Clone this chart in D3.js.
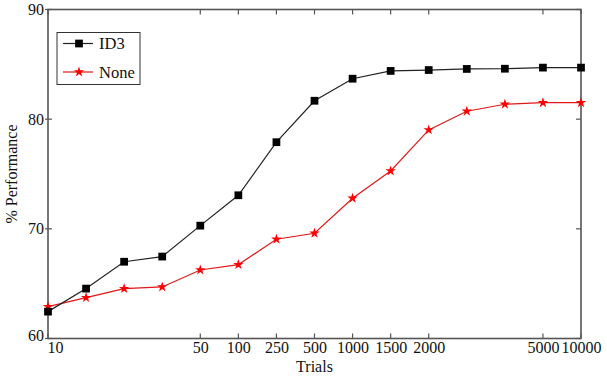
<!DOCTYPE html>
<html>
<head>
<meta charset="utf-8">
<script src="https://cdn.jsdelivr.net/npm/d3@7"></script>
<style>
  body { margin: 0; background: #fff; }
  svg text { font-family: 'Liberation Serif', 'Times New Roman', Times, serif !important; }
  .tick-label { font-size: 16px; fill: #111; }
  .axis-title { font-size: 16px; fill: #111; }
  .legend-label { font-size: 16.5px; fill: #111; }
</style>
</head>
<body>
<svg id="chart"></svg>
<script>
// x positions are evenly spaced trial counts, only some are labelled
const trials = [10, 20, 30, 40, 50, 100, 250, 500, 1000, 1500, 2000, 3000, 4000, 5000, 10000];
const tickTrials = [10, 50, 100, 250, 500, 1000, 1500, 2000, 5000, 10000];
const yTicks = [60, 70, 80, 90];

const id3Values = [62.45, 64.55, 67.0, 67.47, 70.29, 73.06, 77.9, 81.68, 83.69, 84.4, 84.48, 84.58, 84.6, 84.7, 84.7];
const noneValues = [62.9, 63.73, 64.55, 64.7, 66.25, 66.74, 69.05, 69.6, 72.79, 75.28, 79.02, 80.72, 81.36, 81.5, 81.5];

const seriesNames = ['ID3', 'None'];

class PerfChart {
  constructor(_config) {
    this.config = {
      parentElement: _config.parentElement,
      margin: _config.margin,
      width: _config.width - _config.margin.left - _config.margin.right,
      height: _config.height - _config.margin.top - _config.margin.bottom,
      totalWidth: _config.width,
      totalHeight: _config.height,
    };
    this.series = [
      { name: seriesNames[0], values: id3Values, line: '#222', fill: '#000', symbol: d3.symbolSquare, size: 60 },
      { name: seriesNames[1], values: noneValues, line: '#e01818', fill: '#ff0000', symbol: d3.symbolStar, size: 34 },
    ];
    this.initVis();
  }

  initVis() {
    const vis = this;
    const { width, height, margin } = vis.config;

    vis.svg = d3.select(vis.config.parentElement)
      .attr('width', vis.config.totalWidth)
      .attr('height', vis.config.totalHeight);

    vis.chart = vis.svg.append('g')
      .attr('transform', `translate(${margin.left},${margin.top})`);

    vis.xScale = d3.scalePoint()
      .domain(trials)
      .range([0, width]);

    vis.yScale = d3.scaleLinear()
      .domain([60, 90])
      .range([height, 0]);

    vis.renderAxes();
    vis.renderLines();
    vis.renderLegend();
  }

  renderAxes() {
    const vis = this;
    const { width, height } = vis.config;
    const axisColor = '#555';

    // bottom axis - labels only, ticks drawn inward below
    const xAxis = vis.chart.append('g')
      .attr('transform', `translate(0,${height})`)
      .call(d3.axisBottom(vis.xScale).tickValues(tickTrials).tickSize(0).tickPadding(0));
    xAxis.select('.domain').remove();
    xAxis.selectAll('text')
      .attr('class', 'tick-label')
      .attr('dy', '0.72em')
      .attr('y', 3)
      .attr('dx', (d) => (d === 10 ? 7 : 0));

    const yAxis = vis.chart.append('g')
      .call(d3.axisLeft(vis.yScale).tickValues(yTicks).tickSize(0).tickPadding(4));
    yAxis.select('.domain').remove();
    yAxis.selectAll('text')
      .attr('class', 'tick-label')
      .attr('dy', (d) => (d === 60 ? '0.15em' : '0.32em'));

    // inward ticks on all four sides
    const ticks = vis.chart.append('g')
      .attr('stroke', axisColor)
      .attr('stroke-width', 1.2);
    tickTrials.forEach((t) => {
      const x = vis.xScale(t);
      ticks.append('line').attr('x1', x).attr('x2', x).attr('y1', height).attr('y2', height - 5);
      ticks.append('line').attr('x1', x).attr('x2', x).attr('y1', 0).attr('y2', 5);
    });
    yTicks.forEach((v) => {
      const y = vis.yScale(v);
      ticks.append('line').attr('x1', -3).attr('x2', 4).attr('y1', y).attr('y2', y);
      ticks.append('line').attr('x1', width).attr('x2', width - 5).attr('y1', y).attr('y2', y);
    });

    vis.chart.append('rect')
      .attr('width', width)
      .attr('height', height)
      .attr('fill', 'none')
      .attr('stroke', axisColor)
      .attr('stroke-width', 1.6);

    vis.chart.append('text')
      .attr('class', 'axis-title')
      .attr('text-anchor', 'middle')
      .attr('x', width / 2)
      .attr('y', height + 33.5)
      .text('Trials');

    vis.chart.append('text')
      .attr('class', 'axis-title')
      .attr('text-anchor', 'middle')
      .attr('transform', `translate(-31,${height / 2}) rotate(-90)`)
      .text('% Performance');
  }

  renderLines() {
    const vis = this;
    const line = d3.line()
      .x((d, i) => vis.xScale(trials[i]))
      .y((d) => vis.yScale(d));

    // draw the red series first so the black one sits on top
    [...vis.series].reverse().forEach((s) => {
      const g = vis.chart.append('g');
      g.append('path')
        .datum(s.values)
        .attr('fill', 'none')
        .attr('stroke', s.line)
        .attr('stroke-width', 1.2)
        .attr('d', line);
      g.selectAll('path.marker')
        .data(s.values)
        .join('path')
        .attr('class', 'marker')
        .attr('transform', (d, i) => `translate(${vis.xScale(trials[i])},${vis.yScale(d)})`)
        .attr('fill', s.fill)
        .attr('d', d3.symbol().type(s.symbol).size(s.size));
    });
  }

  renderLegend() {
    const vis = this;
    const legend = vis.chart.append('g')
      .attr('transform', 'translate(9,23)');

    legend.append('rect')
      .attr('width', 83)
      .attr('height', 52)
      .attr('fill', '#fff')
      .attr('stroke', '#333')
      .attr('stroke-width', 1);

    vis.series.forEach((s, i) => {
      const y = 11 + i * 28.5;
      legend.append('line')
        .attr('x1', 6).attr('x2', 36)
        .attr('y1', y).attr('y2', y)
        .attr('stroke', s.line)
        .attr('stroke-width', 1.2);
      legend.append('path')
        .attr('transform', `translate(22,${y})`)
        .attr('fill', s.fill)
        .attr('d', d3.symbol().type(s.symbol).size(s.size));
      legend.append('text')
        .attr('class', 'legend-label')
        .attr('x', 42)
        .attr('y', y)
        .attr('dy', '0.35em')
        .text(s.name);
    });
  }
}

new PerfChart({
  parentElement: '#chart',
  width: 607,
  height: 376,
  margin: { top: 9.5, right: 26, bottom: 37.5, left: 48 },
});
</script>
</body>
</html>
